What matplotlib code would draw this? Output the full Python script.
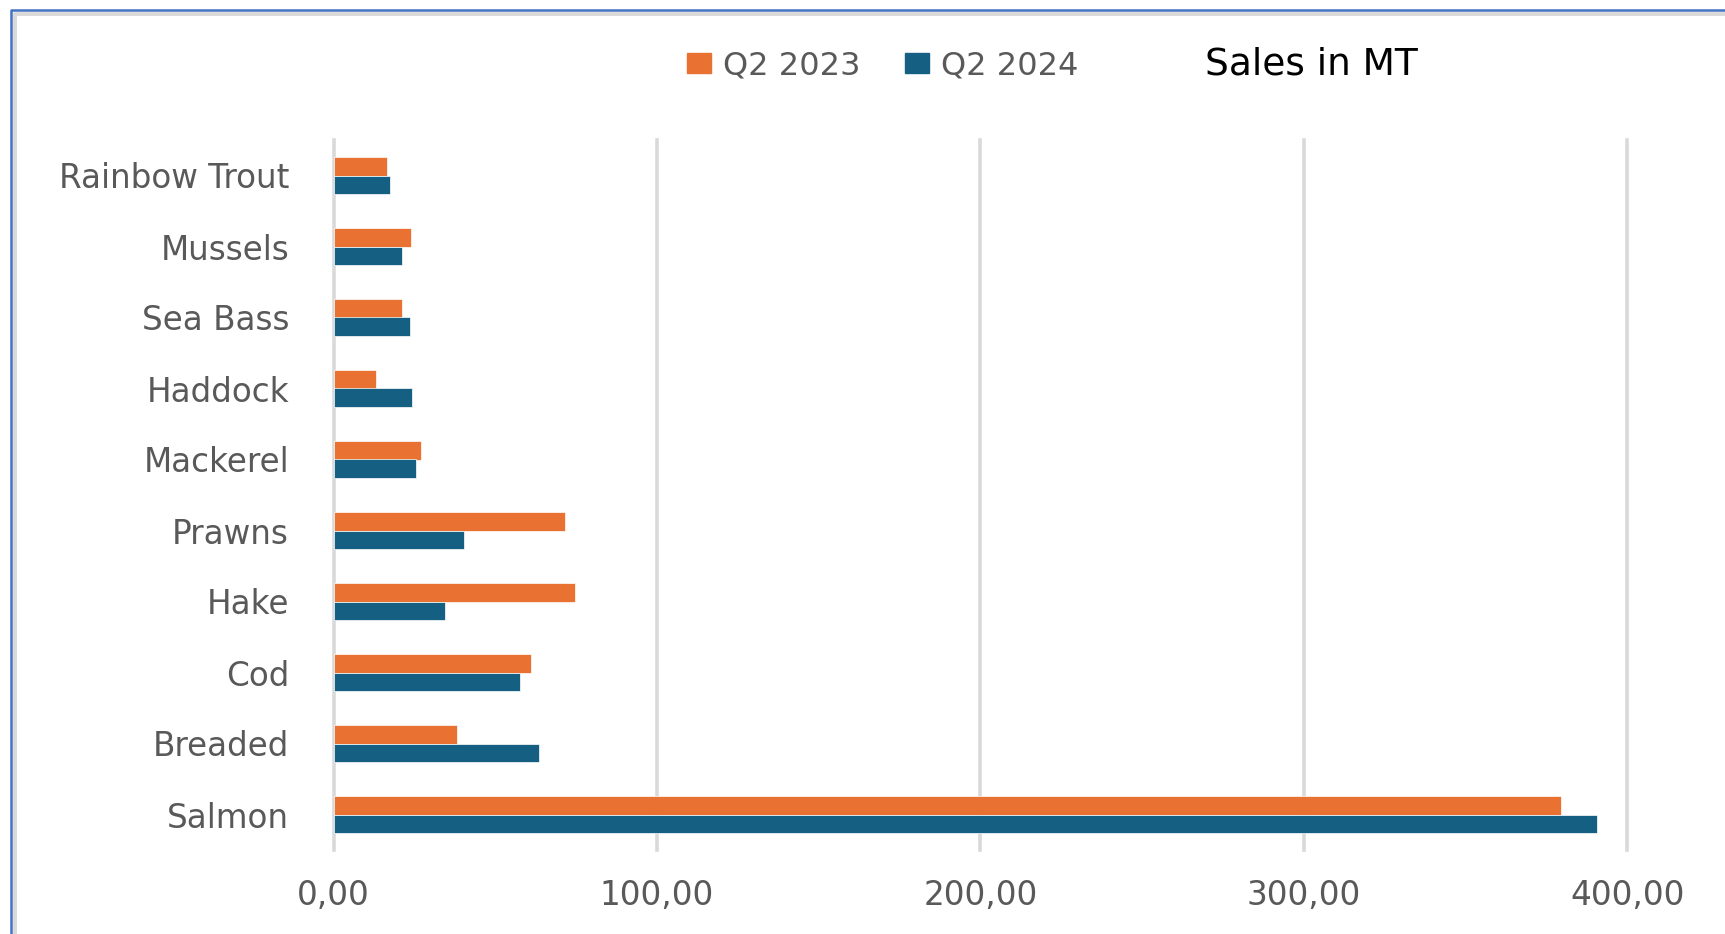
import matplotlib.pyplot as plt
from matplotlib.lines import Line2D
from matplotlib.patches import Patch
import numpy as np

plt.rcParams['font.family'] = ['DejaVu Sans']

# categories from bottom to top
fish = ["Salmon", "Breaded", "Cod", "Hake", "Prawns",
        "Mackerel", "Haddock", "Sea Bass", "Mussels", "Rainbow Trout"]
q2_2023 = [379.5, 38.2, 61.2, 74.6, 71.6, 27.2, 13.0, 21.2, 24.1, 16.6]
q2_2024 = [390.6, 63.5, 57.6, 34.6, 40.5, 25.6, 24.2, 23.5, 21.2, 17.5]
ticks = [0, 100, 200, 300, 400]
tick_labels = ["0,00", "100,00", "200,00", "300,00", "400,00"]

orange = "#E97132"
blue = "#156082"
grey_txt = "#595959"

W, H = 1725, 934
fig = plt.figure(figsize=(W / 100, H / 100), dpi=100)
ax = fig.add_axes([333.5 / W, 1 - 850 / H, (1627.3 - 333.5) / W, (850 - 140) / H])

y = np.arange(len(fish))
h = 0.267
ax.barh(y + h / 2, q2_2023, height=h, color=orange, edgecolor="white", linewidth=0.5, label="Q2 2023", zorder=3)
ax.barh(y - h / 2, q2_2024, height=h, color=blue, edgecolor="white", linewidth=0.5, label="Q2 2024", zorder=3)

ax.set_xlim(0, 400)
ax.set_ylim(-0.5, len(fish) - 0.5)
ax.set_yticks(y)
ax.set_yticklabels(fish)
ax.set_xticks(ticks)
ax.set_xticklabels(tick_labels)
ax.tick_params(axis="y", length=0, pad=32, labelsize=23.5, labelcolor=grey_txt)
ax.tick_params(axis="x", length=0, pad=21, labelsize=23.5, labelcolor=grey_txt)
for s in ax.spines.values():
    s.set_visible(False)
ax.grid(axis="x", color="#D9D9D9", linewidth=2.6, zorder=0)
ax.grid(axis="y", visible=False)
for gl in ax.get_xgridlines():
    gl.set_clip_on(False)

handles = [Patch(color=orange), Patch(color=blue)]
fig.legend(handles, ["Q2 2023", "Q2 2024"], loc="center left",
           bbox_to_anchor=(687 / W, 1 - 66 / H), ncol=2, frameon=False,
           fontsize=23, labelcolor=grey_txt, handlelength=0.75, handleheight=0.6,
           handletextpad=0.38, columnspacing=1.4, borderpad=0, borderaxespad=0)

fig.text(1205 / W, 1 - 74.3 / H, "Sales in MT", fontsize=27, color="black",
         ha="left", va="baseline")

# chart frame (cropped at right and bottom)
fig.add_artist(Line2D([11 / W, 11 / W, 1], [0, 1 - 10 / H, 1 - 10 / H],
                      transform=fig.transFigure, color="#4472C4", linewidth=1.8))
fig.add_artist(Line2D([15 / W, 15 / W, 1], [0, 1 - 14 / H, 1 - 14 / H],
                      transform=fig.transFigure, color="#D9D9D9", linewidth=2.8))

fig.savefig("out.png", dpi=100)
